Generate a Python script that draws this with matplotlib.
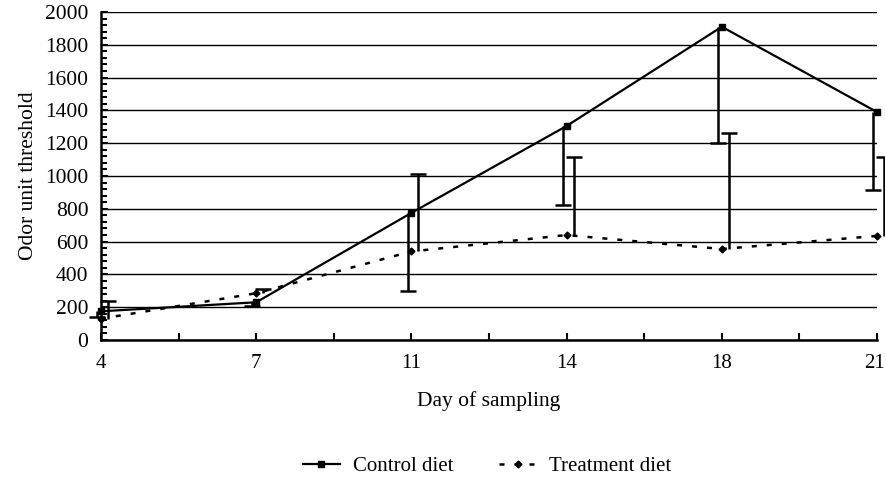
import matplotlib
matplotlib.use("Agg")
import matplotlib.pyplot as plt
import matplotlib.transforms as mtransforms
import numpy as np
from matplotlib.ticker import MultipleLocator

# data
days = ["4", "7", "11", "14", "18", "21"]
control = [175, 230, 775, 1305, 1910, 1390]
control_err = [35, 20, 475, 480, 710, 475]          # drawn downwards only
treatment = [130, 285, 540, 640, 555, 635]
treatment_err = [110, 25, 470, 475, 705, 480]      # drawn upwards only

plt.rcParams['font.family'] = ['Liberation Serif', 'DejaVu Serif']

fig = plt.figure(figsize=(8.85, 4.79), dpi=100)
ax = fig.add_axes([101 / 885, 139 / 479, 776 / 885, 328 / 479])

x = np.arange(len(days))
c = np.array(control)
t = np.array(treatment)
xc = x - 0.025
xt = x + 0.045

# one sided error bars, slightly offset from the points as in the original
ax.vlines(xc, c - np.array(control_err), c, color='black', lw=1.8, clip_on=False, zorder=3)
ax.plot(xc, c - np.array(control_err), ls='none', marker='_', markersize=11,
        mew=1.8, color='black', clip_on=False, zorder=3)
ax.vlines(xt, t, t + np.array(treatment_err), color='black', lw=1.8, clip_on=False, zorder=3)
ax.plot(xt, t + np.array(treatment_err), ls='none', marker='_', markersize=11,
        mew=1.8, color='black', clip_on=False, zorder=3)

l1, = ax.plot(x, control, '-', color='black', lw=1.6, marker='s', markersize=4,
              clip_on=False, zorder=4)
l2, = ax.plot(x, treatment, '--', color='black', lw=1.8, dashes=(2, 4), marker='D',
              markersize=3.5, clip_on=False, zorder=4)

ax.set_xlim(0, 5)
ax.set_ylim(0, 2000)
ax.set_xticks(x)
ax.set_xticklabels(days)
ax.xaxis.set_minor_locator(MultipleLocator(0.5))
ax.yaxis.set_major_locator(MultipleLocator(200))
ax.yaxis.set_minor_locator(MultipleLocator(40))

ax.grid(axis='y', color='black', lw=1.0)
ax.set_axisbelow(True)
for s in ['top', 'right']:
    ax.spines[s].set_visible(False)
for s in ['left', 'bottom']:
    ax.spines[s].set_linewidth(1.8)

ax.tick_params(axis='both', which='both', direction='in', color='black', width=1.5)
ax.tick_params(axis='x', which='both', length=5, labelsize=15, pad=10)
ax.tick_params(axis='y', which='major', length=5, labelsize=15.5, pad=9)
ax.tick_params(axis='y', which='minor', length=4)

# keep the last day label inside the figure
last = ax.get_xticklabels()[-1]
last.set_horizontalalignment('right')
last.set_transform(last.get_transform() + mtransforms.ScaledTranslation(8 / 100, 0, fig.dpi_scale_trans))

ax.set_xlabel("Day of sampling", fontsize=15.5, labelpad=13)
ax.set_ylabel("Odor unit threshold", fontsize=15.5, labelpad=5)

fig.legend([l1, l2], ["Control diet", "Treatment diet"], loc='center',
           bbox_to_anchor=(487 / 885, 1 - 466 / 479), ncol=2, frameon=False,
           fontsize=15, handlelength=1.8, columnspacing=2.2, handletextpad=0.6)

fig.savefig("out.png", dpi=100)
